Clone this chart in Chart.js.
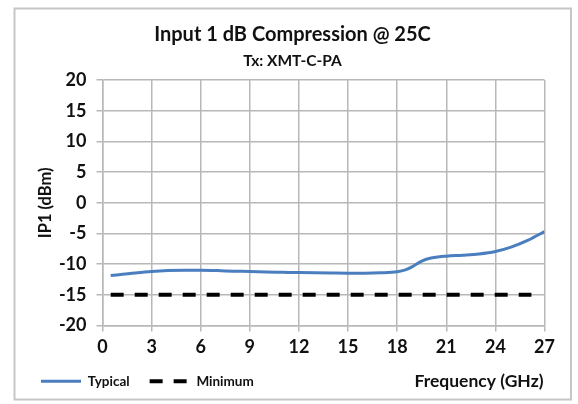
<!DOCTYPE html>
<html>
<head>
<meta charset="utf-8">
<script src="https://cdn.jsdelivr.net/npm/chart.js@4/dist/chart.umd.min.js"></script>
<style>
  html, body { margin: 0; padding: 0; background: #ffffff; }
  canvas { display: block; }
</style>
</head>
<body>
<canvas id="c" width="578" height="404"></canvas>
<script>
// ---- data ----
const typicalFreq = [0.5, 1, 2, 3, 4, 5, 6, 7, 8, 9, 10, 11, 12, 13, 14, 15, 16, 17, 18, 18.5, 19, 19.5, 20, 21, 22, 23, 24, 25, 26, 27];
const typicalIP1  = [-11.85, -11.75, -11.45, -11.2, -11.05, -11.0, -11.0, -11.05, -11.15, -11.2, -11.28, -11.33, -11.38, -11.42, -11.45, -11.47, -11.47, -11.42, -11.25, -10.95, -10.3, -9.5, -9.05, -8.7, -8.55, -8.35, -7.95, -7.2, -6.1, -4.7];
const minimumFreq = [0.5, 26.2];
const minimumIP1  = [-15, -15];
const xTicks = [0, 3, 6, 9, 12, 15, 18, 21, 24, 27];
const yTicks = [-20, -15, -10, -5, 0, 5, 10, 15, 20];
const seriesNames = ['Typical', 'Minimum'];
const titleText = 'Input 1 dB Compression @ 25C';
const subtitleText = 'Tx: XMT-C-PA';
const xTitle = 'Frequency (GHz)';
const yTitle = 'IP1 (dBm)';

const FONT = 'Lato, "Open Sans", "DejaVu Sans", sans-serif';
const TEXT = '#111111';
const GRID = '#b8b8b8';

const toPts = (xs, ys) => xs.map((x, i) => ({ x: x, y: ys[i] }));

const frame = {
  id: 'frame',
  afterLayout(chart) {
    // centre title and subtitle on the outer frame, as in the reference
    chart.boxes.forEach(b => {
      if (b.options && (b.options.text === titleText || b.options.text === subtitleText)) {
        b.left = 14;
        b.right = 571;
      }
    });
  },
  beforeDraw(chart) {
    const ctx = chart.ctx;
    ctx.save();
    ctx.fillStyle = '#ffffff';
    ctx.fillRect(0, 0, chart.width, chart.height);
    ctx.strokeStyle = '#c6c6c6';
    ctx.lineWidth = 2;
    ctx.strokeRect(14.5, 8.5, 556.5, 391);
    ctx.restore();
  },
  afterDraw(chart) {
    const ctx = chart.ctx;
    const lg = chart.legend;
    const items = lg.legendHitBoxes;
    const cy = items && items.length ? items[0].top + items[0].height / 2 : lg.top + lg.height / 2;
    ctx.save();
    ctx.font = 'bold 17.5px ' + FONT;
    ctx.fillStyle = TEXT;
    ctx.textAlign = 'right';
    ctx.textBaseline = 'middle';
    ctx.fillText(xTitle, chart.chartArea.right - 1, cy);
    ctx.restore();
  }
};

new Chart(document.getElementById('c'), {
  type: 'line',
  data: {
    datasets: [
      {
        label: seriesNames[0],
        data: toPts(typicalFreq, typicalIP1),
        borderColor: '#4a7ebf',
        backgroundColor: '#4a7ebf',
        borderWidth: 3,
        pointRadius: 0,
        cubicInterpolationMode: 'monotone',
        fill: false
      },
      {
        label: seriesNames[1],
        data: toPts(minimumFreq, minimumIP1),
        borderColor: '#000000',
        backgroundColor: '#000000',
        borderWidth: 4,
        borderDash: [13, 11],
        pointRadius: 0,
        fill: false
      }
    ]
  },
  options: {
    responsive: false,
    devicePixelRatio: 1,
    animation: false,
    layout: { padding: { top: 10, left: 21, right: 33.5, bottom: 6 } },
    plugins: {
      title: {
        display: true,
        text: titleText,
        color: TEXT,
        font: { family: FONT, size: 20, weight: 'bold', lineHeight: 1.2 },
        padding: { top: 13, bottom: 0 }
      },
      subtitle: {
        display: true,
        text: subtitleText,
        color: TEXT,
        font: { family: FONT, size: 15.5, weight: 'bold', lineHeight: 1.2 },
        padding: { top: 4.7, bottom: 9.7 }
      },
      legend: {
        display: true,
        position: 'bottom',
        align: 'start',
        labels: {
          usePointStyle: true,
          pointStyle: 'line',
          pointStyleWidth: 40,
          boxHeight: 13,
          padding: 20,
          color: TEXT,
          font: { family: FONT, size: 13.5, weight: 'bold' },
          generateLabels(chart) {
            const items = Chart.defaults.plugins.legend.labels.generateLabels(chart);
            items.forEach(it => {
              const ds = chart.data.datasets[it.datasetIndex];
              it.lineDash = ds.borderDash || [];
              it.lineWidth = ds.borderWidth;
              it.strokeStyle = ds.borderColor;
              it.fillStyle = ds.borderColor;
              it.pointStyle = 'line';
            });
            return items;
          }
        }
      },
      tooltip: { enabled: false }
    },
    scales: {
      x: {
        type: 'linear',
        min: xTicks[0],
        max: xTicks[xTicks.length - 1],
        afterBuildTicks(scale) { scale.ticks = xTicks.map(v => ({ value: v })); },
        afterFit(scale) { scale.height = 29; },
        grid: { color: GRID, lineWidth: 1.5, drawTicks: true, tickLength: 6, tickColor: GRID },
        border: { color: GRID, width: 1.5 },
        ticks: {
          color: TEXT,
          padding: 5,
          font: { family: FONT, size: 18, weight: 'bold' }
        },
        title: { display: false }
      },
      y: {
        type: 'linear',
        min: yTicks[0],
        max: yTicks[yTicks.length - 1],
        afterBuildTicks(scale) { scale.ticks = yTicks.map(v => ({ value: v })); },
        afterFit(scale) { scale.width = 81.5; },
        grid: { color: GRID, lineWidth: 1.5, drawTicks: true, tickLength: 6, tickColor: GRID },
        border: { color: GRID, width: 1.5 },
        ticks: {
          color: TEXT,
          padding: 10,
          font: { family: FONT, size: 18, weight: 'bold' }
        },
        title: {
          display: true,
          text: yTitle,
          color: TEXT,
          padding: { top: 14.5, bottom: 0 },
          font: { family: FONT, size: 16.5, weight: 'bold', lineHeight: 1.2 }
        }
      }
    }
  },
  plugins: [frame]
});
</script>
</body>
</html>
